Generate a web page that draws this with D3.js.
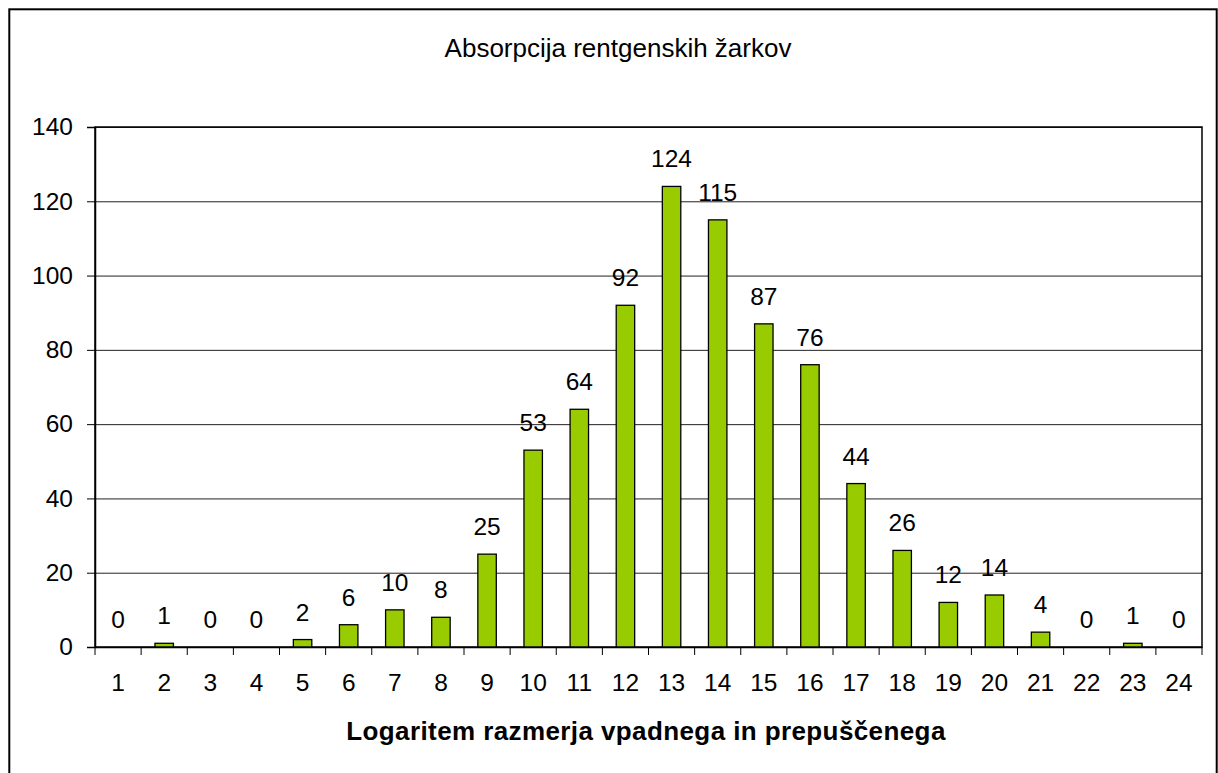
<head>
    <script src="https://d3js.org/d3.v7.min.js"></script>
</head>
<body style="margin:0">
<script>
    let categories = ["1","2","3","4","5","6","7","8","9","10","11","12","13","14","15","16","17","18","19","20","21","22","23","24"];
    let values = [0,1,0,0,2,6,10,8,25,53,64,92,124,115,87,76,44,26,12,14,4,0,1,0];
    let yTicks = [0,20,40,60,80,100,120,140];
    let title = "Absorpcija rentgenskih žarkov";
    let xTitle = "Logaritem razmerja vpadnega in prepuščenega";

    let width = 1218;
    let height = 773;
    let font = "Liberation Sans, Arial, sans-serif";
    let fs = 24.5;

    let svg = d3.select("body").append("svg")
        .attr("width", width)
        .attr("height", height)
        .style("display", "block");

    svg.append("rect")
        .attr("width", width).attr("height", height)
        .attr("fill", "white");

    // outer frame
    svg.append("rect")
        .attr("x", 9.3).attr("y", 9.3)
        .attr("width", 1207.4).attr("height", 800)
        .attr("fill", "none")
        .attr("stroke", "black")
        .attr("stroke-width", 2);

    let plotL = 95, plotR = 1202, plotT = 127, plotB = 647;

    let x = d3.scaleBand()
        .domain(categories)
        .range([plotL, plotR])
        .paddingInner(0.6)
        .paddingOuter(0.3);

    let y = d3.scaleLinear()
        .domain([0, 140])
        .range([plotB, plotT]);

    // gridlines
    svg.selectAll(".grid")
        .data(yTicks.slice(1))
        .join("line")
        .attr("class", "grid")
        .attr("x1", plotL).attr("x2", plotR)
        .attr("y1", d => y(d) + 0.5).attr("y2", d => y(d) + 0.5)
        .attr("stroke", "#222")
        .attr("stroke-width", 1);

    // plot frame
    svg.append("rect")
        .attr("x", plotL).attr("y", plotT)
        .attr("width", plotR - plotL).attr("height", plotB - plotT)
        .attr("fill", "none")
        .attr("stroke", "black")
        .attr("stroke-width", 1.5);

    // bars
    svg.selectAll(".bar")
        .data(values)
        .join("rect")
        .attr("class", "bar")
        .attr("x", (d, i) => x(categories[i]))
        .attr("y", d => y(d))
        .attr("width", x.bandwidth())
        .attr("height", d => plotB - y(d))
        .attr("fill", "#99CC00")
        .attr("stroke", "black")
        .attr("stroke-width", 1.3);

    // value labels
    svg.selectAll(".vlabel")
        .data(values)
        .join("text")
        .attr("class", "vlabel")
        .attr("x", (d, i) => x(categories[i]) + x.bandwidth() / 2)
        .attr("y", d => y(d) - 19)
        .attr("text-anchor", "middle")
        .attr("font-family", font)
        .attr("font-size", fs)
        .text(d => d);

    // y axis
    let yAxis = d3.axisLeft(y).tickValues(yTicks).tickSize(8).tickPadding(14);
    let gy = svg.append("g")
        .attr("transform", `translate(${plotL},0)`)
        .call(yAxis);
    gy.select(".domain").attr("stroke", "black").attr("stroke-width", 1.5);
    gy.selectAll(".tick line").attr("stroke", "black");
    gy.selectAll("text")
        .attr("font-family", font)
        .attr("font-size", fs)
        .attr("fill", "black");

    // x axis
    let xAxis = d3.axisBottom(x).tickSize(0).tickPadding(27);
    let gx = svg.append("g")
        .attr("transform", `translate(0,${plotB})`)
        .call(xAxis);
    gx.select(".domain").attr("stroke", "black").attr("stroke-width", 1.5);
    gx.selectAll("text")
        .attr("font-family", font)
        .attr("font-size", fs)
        .attr("fill", "black");

    // x tick marks between categories
    let bounds = d3.range(categories.length + 1).map(i => plotL + i * (plotR - plotL) / categories.length);
    svg.selectAll(".xtick")
        .data(bounds)
        .join("line")
        .attr("class", "xtick")
        .attr("x1", d => d).attr("x2", d => d)
        .attr("y1", plotB).attr("y2", plotB + 8)
        .attr("stroke", "black");

    svg.append("text")
        .attr("x", 618).attr("y", 57)
        .attr("text-anchor", "middle")
        .attr("font-family", font)
        .attr("font-size", 26)
        .text(title);

    svg.append("text")
        .attr("x", 646).attr("y", 740)
        .attr("text-anchor", "middle")
        .attr("font-family", font)
        .attr("font-size", 26)
        .attr("font-weight", "bold")
        .attr("letter-spacing", 0.4)
        .text(xTitle);
</script>
</body>
</html>
